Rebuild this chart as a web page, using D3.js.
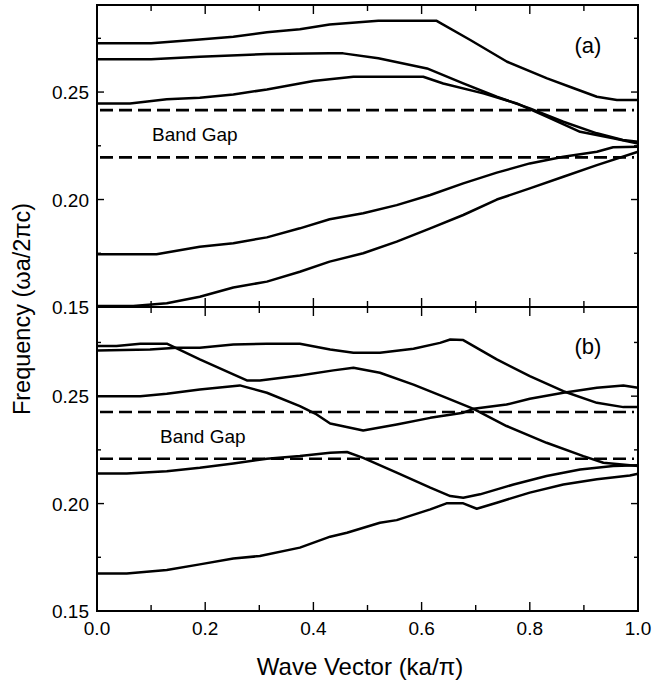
<!DOCTYPE html>
<html>
<head>
<meta charset="utf-8">
<script src="https://cdnjs.cloudflare.com/ajax/libs/d3/7.8.5/d3.min.js"></script>
<style>
  body { margin: 0; background: #fff; }
  text { font-family: "Liberation Sans", Arial, Helvetica, sans-serif; fill: #000; }
</style>
</head>
<body>
<svg id="bands"></svg>
<script>
// wave vector ka/pi and frequency wa/2pic
// panel (a)
var a1k = [0, 0.10, 0.19, 0.252, 0.314, 0.375, 0.43, 0.52, 0.627, 0.69, 0.758, 0.832, 0.88, 0.924, 0.961, 1.0];
var a1f = [0.2727, 0.2727, 0.2745, 0.2757, 0.2778, 0.2792, 0.2814, 0.2832, 0.2832, 0.2742, 0.2641, 0.2564, 0.2519, 0.2478, 0.2463, 0.2463];
var a2k = [0, 0.10, 0.19, 0.314, 0.43, 0.455, 0.52, 0.61, 0.677, 0.739, 0.80, 0.862, 0.924, 0.972, 1.0];
var a2f = [0.2653, 0.2653, 0.2664, 0.2677, 0.268, 0.268, 0.2657, 0.261, 0.254, 0.2478, 0.2424, 0.2362, 0.2308, 0.2277, 0.2269];
var a3k = [0, 0.061, 0.129, 0.19, 0.252, 0.314, 0.40, 0.43, 0.474, 0.603, 0.64, 0.714, 0.776, 0.832, 0.893, 0.954, 1.0];
var a3f = [0.2447, 0.2447, 0.2466, 0.2473, 0.2489, 0.2512, 0.2551, 0.256, 0.2571, 0.2571, 0.254, 0.2494, 0.2447, 0.2385, 0.2315, 0.2285, 0.2261];
var a4k = [0, 0.11, 0.19, 0.252, 0.314, 0.375, 0.43, 0.492, 0.554, 0.616, 0.677, 0.739, 0.80, 0.862, 0.924, 0.954, 1.0];
var a4f = [0.1745, 0.1745, 0.178, 0.1797, 0.1824, 0.1866, 0.1908, 0.1936, 0.1974, 0.2021, 0.2075, 0.2125, 0.2168, 0.2199, 0.2222, 0.2243, 0.2246];
var a5k = [0, 0.067, 0.129, 0.19, 0.252, 0.314, 0.375, 0.43, 0.492, 0.554, 0.616, 0.677, 0.739, 0.80, 0.862, 0.924, 1.0];
var a5f = [0.1505, 0.1505, 0.1517, 0.1548, 0.1591, 0.1618, 0.1664, 0.1711, 0.175, 0.1804, 0.1866, 0.1928, 0.2, 0.2052, 0.2106, 0.216, 0.2222];
var gapA = [0.2416, 0.2196];

// panel (b)
var b1k = [0, 0.036, 0.08, 0.129, 0.19, 0.252, 0.277, 0.301, 0.375, 0.437, 0.474, 0.523, 0.585, 0.646, 0.696, 0.757, 0.831, 0.899, 0.936, 1.0];
var b1f = [0.2733, 0.2733, 0.2744, 0.2744, 0.2671, 0.2601, 0.2573, 0.2573, 0.2596, 0.262, 0.2632, 0.2609, 0.2554, 0.2492, 0.2441, 0.2361, 0.2283, 0.2221, 0.219, 0.2175];
var b2k = [0, 0.098, 0.147, 0.19, 0.252, 0.314, 0.375, 0.431, 0.474, 0.523, 0.585, 0.634, 0.653, 0.677, 0.739, 0.80, 0.862, 0.924, 0.973, 1.0];
var b2f = [0.2713, 0.2717, 0.2725, 0.2725, 0.274, 0.2744, 0.2744, 0.2717, 0.2702, 0.2702, 0.2721, 0.2748, 0.2764, 0.2761, 0.2671, 0.2593, 0.2523, 0.2469, 0.2449, 0.2449];
var b3k = [0, 0.08, 0.129, 0.19, 0.264, 0.314, 0.375, 0.406, 0.431, 0.492, 0.554, 0.616, 0.677, 0.696, 0.757, 0.80, 0.862, 0.924, 0.973, 1.0];
var b3f = [0.25, 0.25, 0.2511, 0.2531, 0.255, 0.2516, 0.2454, 0.2415, 0.2373, 0.234, 0.2368, 0.2399, 0.2423, 0.2441, 0.2461, 0.2488, 0.2516, 0.2539, 0.255, 0.2539];
var b4k = [0, 0.055, 0.129, 0.19, 0.252, 0.314, 0.375, 0.431, 0.462, 0.492, 0.554, 0.616, 0.653, 0.677, 0.708, 0.77, 0.831, 0.893, 0.954, 1.0];
var b4f = [0.214, 0.214, 0.2151, 0.2167, 0.2187, 0.2209, 0.2221, 0.2237, 0.224, 0.2213, 0.2144, 0.2074, 0.2035, 0.2027, 0.2043, 0.2089, 0.2128, 0.2159, 0.2175, 0.2178];
var b5k = [0, 0.055, 0.129, 0.19, 0.252, 0.301, 0.375, 0.431, 0.462, 0.523, 0.554, 0.616, 0.646, 0.677, 0.702, 0.739, 0.80, 0.862, 0.924, 0.985, 1.0];
var b5f = [0.1675, 0.1675, 0.1691, 0.1717, 0.1744, 0.1756, 0.1795, 0.1846, 0.1864, 0.1911, 0.1923, 0.1973, 0.2001, 0.2001, 0.1976, 0.2004, 0.2051, 0.2089, 0.2113, 0.2131, 0.2139];
var gapB = [0.2426, 0.2209];

var xMajor = [0, 0.2, 0.4, 0.6, 0.8, 1.0];
var xMinor = [0.1, 0.3, 0.5, 0.7, 0.9];
var yMajor = [0.15, 0.20, 0.25];
var yMinor = [0.175, 0.225, 0.275];

var width = 667, height = 683;
var left = 97, right = 638;

var svg = d3.select("#bands")
            .attr("width", width)
            .attr("height", height);

var x = d3.scaleLinear().domain([0, 1]).range([left, right]);

var panels = [
  { y: d3.scaleLinear().domain([0.15, 0.2905]).range([307, 5]), top: 5, bottom: 307,
    bands: [[a1k, a1f], [a2k, a2f], [a3k, a3f], [a4k, a4f], [a5k, a5f]], gap: gapA,
    tag: "(a)", tagY: 53, gapText: [152, 141] },
  { y: d3.scaleLinear().domain([0.15, 0.2915]).range([611, 307]), top: 307, bottom: 611,
    bands: [[b1k, b1f], [b2k, b2f], [b3k, b3f], [b4k, b4f], [b5k, b5f]], gap: gapB,
    tag: "(b)", tagY: 354, gapText: [160, 443] }
];

panels.forEach(function(p, i) {
  var g = svg.append("g");
  var y = p.y;

  // dashed band edges
  g.selectAll("line.gap")
   .data(p.gap)
   .enter()
   .append("line")
   .attr("x1", left + 3)
   .attr("x2", right - 4)
   .attr("y1", function(d) { return y(d); })
   .attr("y2", function(d) { return y(d); })
   .attr("stroke", "#000")
   .attr("stroke-width", 2.6)
   .attr("stroke-dasharray", "13,6");

  var line = d3.line()
               .x(function(d) { return x(d[0]); })
               .y(function(d) { return y(d[1]); });

  g.selectAll("path.band")
   .data(p.bands)
   .enter()
   .append("path")
   .attr("fill", "none")
   .attr("stroke", "#000")
   .attr("stroke-width", 2.5)
   .attr("stroke-linejoin", "round")
   .attr("d", function(b) { return line(d3.zip(b[0], b[1])); });

  // ticks pointing inwards on all four sides
  var tk = g.append("g").attr("stroke", "#000").attr("stroke-width", 1.4);
  function xt(vals, len) {
    vals.forEach(function(v) {
      tk.append("line").attr("x1", x(v)).attr("x2", x(v)).attr("y1", p.top).attr("y2", p.top + len);
      tk.append("line").attr("x1", x(v)).attr("x2", x(v)).attr("y1", p.bottom).attr("y2", p.bottom - len);
    });
  }
  function yt(vals, len) {
    vals.forEach(function(v) {
      tk.append("line").attr("x1", left).attr("x2", left + len).attr("y1", y(v)).attr("y2", y(v));
      tk.append("line").attr("x1", right).attr("x2", right - len).attr("y1", y(v)).attr("y2", y(v));
    });
  }
  xt(xMajor.slice(1, -1), 9);
  xt(xMinor, 6);
  yt(yMajor.slice(1), 7);
  yt(yMinor, 4);

  g.selectAll("text.ylab")
   .data(yMajor)
   .enter()
   .append("text")
   .attr("x", left - 8)
   .attr("y", function(d) { return y(d) + 7; })
   .attr("text-anchor", "end")
   .style("font-size", "19px")
   .text(function(d) { return d3.format(".2f")(d); });

  g.append("text")
   .attr("x", 588)
   .attr("y", p.tagY)
   .attr("text-anchor", "middle")
   .style("font-size", "22px")
   .text(p.tag);

  g.append("text")
   .attr("x", p.gapText[0])
   .attr("y", p.gapText[1])
   .style("font-size", "19px")
   .text("Band Gap");

  g.append("rect")
   .attr("x", left)
   .attr("y", p.top)
   .attr("width", right - left)
   .attr("height", p.bottom - p.top)
   .attr("fill", "none")
   .attr("stroke", "#000")
   .attr("stroke-width", 2);
});

svg.selectAll("text.xlab")
   .data(xMajor)
   .enter()
   .append("text")
   .attr("x", function(d) { return x(d); })
   .attr("y", 635)
   .attr("text-anchor", "middle")
   .style("font-size", "19px")
   .text(function(d) { return d3.format(".1f")(d); });

svg.append("text")
   .attr("x", 360)
   .attr("y", 675)
   .attr("text-anchor", "middle")
   .style("font-size", "24px")
   .text("Wave Vector (ka/\u03c0)");

svg.append("text")
   .attr("transform", "translate(30,309) rotate(-90)")
   .attr("text-anchor", "middle")
   .style("font-size", "23.5px")
   .text("Frequency (\u03c9a/2\u03c0c)");
</script>
</body>
</html>
